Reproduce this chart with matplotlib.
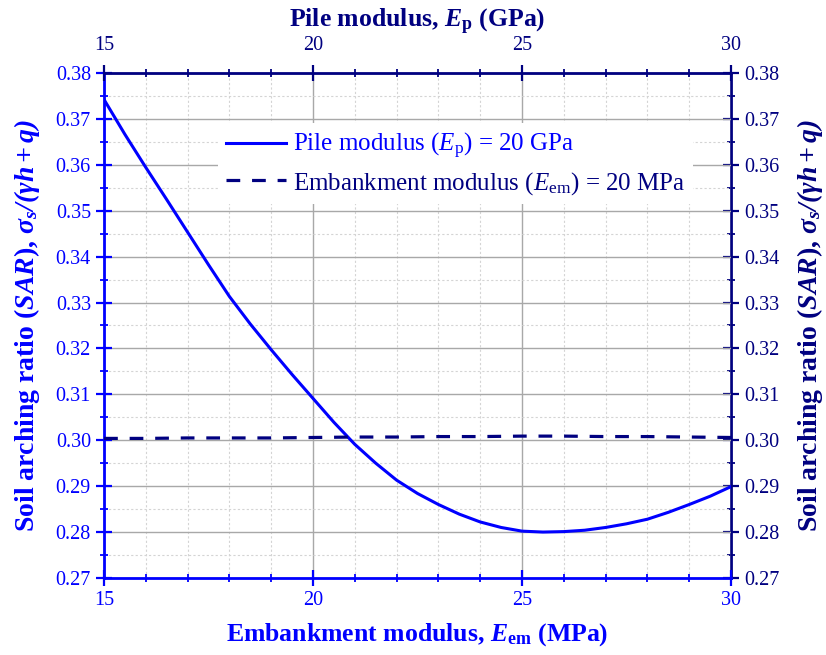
import matplotlib
matplotlib.use("Agg")
import matplotlib.pyplot as plt
from matplotlib.ticker import MultipleLocator, FormatStrFormatter

# embankment modulus sweep (bottom axis), pile modulus fixed at 20 GPa
em_modulus = [15, 15.5, 16, 16.5, 17, 17.5, 18, 18.5, 19, 19.5, 20, 20.5, 21,
              21.5, 22, 22.5, 23, 23.5, 24, 24.5, 25, 25.5, 26, 26.5, 27, 27.5,
              28, 28.5, 29, 29.5, 30]
sar_em = [0.3742, 0.3666, 0.3594, 0.3524, 0.3453, 0.3382, 0.3313, 0.3253,
          0.3197, 0.3143, 0.3091, 0.3039, 0.2991, 0.2950, 0.2913, 0.2884,
          0.2860, 0.2839, 0.2822, 0.2810, 0.2802, 0.2800, 0.2801, 0.2804,
          0.2810, 0.2818, 0.2828, 0.2843, 0.2860, 0.2878, 0.2899]

# pile modulus sweep (top axis), embankment modulus fixed at 20 MPa
pile_modulus = [15, 16, 17, 18, 19, 20, 21, 22, 23, 24, 25, 26, 27, 28, 29, 30]
sar_pile = [0.3004, 0.3004, 0.3005, 0.3005, 0.3005, 0.3006, 0.3007, 0.3007,
            0.3008, 0.3008, 0.3009, 0.3009, 0.3008, 0.3008, 0.3007, 0.3006]

BLUE = "#0000FF"
NAVY = "#000080"

plt.rcParams.update({
    "font.family": ["Liberation Serif", "DejaVu Serif"],
    "mathtext.fontset": "custom",
    "mathtext.rm": "Liberation Serif",
    "mathtext.it": "Liberation Serif:italic",
    "mathtext.bf": "Liberation Serif:bold",
    "mathtext.bfit": "Liberation Serif:bold:italic",
    "font.size": 14.5,
})

fig = plt.figure(figsize=(8.26, 6.55), dpi=100)
ax = fig.add_axes([0.126, 0.1176, 0.759, 0.771])
ax_top = ax.twiny()

line1, = ax.plot(em_modulus, sar_em, color=BLUE, lw=2.2,
                 label=r"Pile modulus ($\it{E}_\mathrm{p}$) = 20 GPa")
line2, = ax_top.plot(pile_modulus, sar_pile, color=NAVY, lw=2.3, ls=(0, (4.3, 3.7)),
                     label=r"Embankment modulus ($\it{E}_\mathrm{em}$) = 20 MPa")

for a in (ax, ax_top):
    a.set_xlim(15, 30)
    a.xaxis.set_major_locator(MultipleLocator(5))
    a.xaxis.set_minor_locator(MultipleLocator(1))
ax.set_ylim(0.27, 0.38)
ax.yaxis.set_major_locator(MultipleLocator(0.01))
ax.yaxis.set_minor_locator(MultipleLocator(0.005))
ax.yaxis.set_major_formatter(FormatStrFormatter("%.2f"))

ax.grid(which="major", color="#a8a8a8", lw=1.0, ls="-")
ax.grid(which="minor", color="#d4d4d4", lw=0.8, ls=(0, (2, 2)))
ax.set_axisbelow(True)

ax_right = ax.secondary_yaxis("right")
ax_right.yaxis.set_major_locator(MultipleLocator(0.01))
ax_right.yaxis.set_minor_locator(MultipleLocator(0.005))
ax_right.yaxis.set_major_formatter(FormatStrFormatter("%.2f"))

# spines and ticks
ax.spines["left"].set_color(BLUE)
ax.spines["bottom"].set_color(BLUE)
ax_top.spines["top"].set_color(NAVY)
ax_right.spines["right"].set_color(NAVY)
for s in ("left", "bottom"):
    ax.spines[s].set_linewidth(2.0)
ax_top.spines["top"].set_linewidth(2.0)
ax_right.spines["right"].set_linewidth(2.0)
for s in ("left", "bottom", "right"):
    ax_top.spines[s].set_visible(False)
ax.spines["top"].set_visible(False)
ax.spines["right"].set_visible(False)

ax.tick_params(axis="both", which="major", direction="inout", length=12, width=1.6,
               colors=BLUE, labelsize=14.5, top=False, right=False)
ax.tick_params(axis="both", which="minor", direction="inout", length=6, width=1.3,
               colors=BLUE, top=False, right=False)
ax_top.tick_params(axis="x", which="major", direction="inout", length=12, width=1.6,
                   colors=NAVY, labelsize=14.5, pad=7)
ax_top.tick_params(axis="x", which="minor", direction="inout", length=6, width=1.3,
                   colors=NAVY)
ax_right.tick_params(axis="y", which="major", direction="inout", length=12, width=1.6,
                     colors=NAVY, labelsize=14.5)
ax_right.tick_params(axis="y", which="minor", direction="inout", length=6, width=1.3,
                     colors=NAVY)

ylabel = r"Soil arching ratio ($\mathbfit{SAR}$), $\mathbfit{\sigma_s/(\gamma h+q)}$"
ax.set_xlabel(r"Embankment modulus, $\mathbfit{E}_\mathbf{em}$ (MPa)",
              fontsize=18.5, fontweight="bold", color=BLUE, labelpad=8)
ax.set_ylabel(ylabel, fontsize=20, fontweight="bold", color=BLUE, labelpad=10)
ax_top.set_xlabel(r"Pile modulus, $\mathbfit{E}_\mathbf{p}$ (GPa)",
                  fontsize=18.5, fontweight="bold", color=NAVY, labelpad=6)
ax_right.set_ylabel(ylabel, fontsize=20, fontweight="bold", color=NAVY,
                    rotation=90, labelpad=11)

leg = ax.legend(handles=[line1, line2], loc="upper left",
                bbox_to_anchor=(0.182, 0.9), fontsize=18, frameon=True,
                fancybox=False, edgecolor="none", facecolor="white", framealpha=1,
                handlelength=2.4, handletextpad=0.3, borderpad=0.3,
                labelspacing=0.35, borderaxespad=0)
leg.set_zorder(5)
leg.get_texts()[0].set_color(BLUE)
leg.get_texts()[1].set_color(NAVY)

fig.savefig("out.png", dpi=100, facecolor="white")
